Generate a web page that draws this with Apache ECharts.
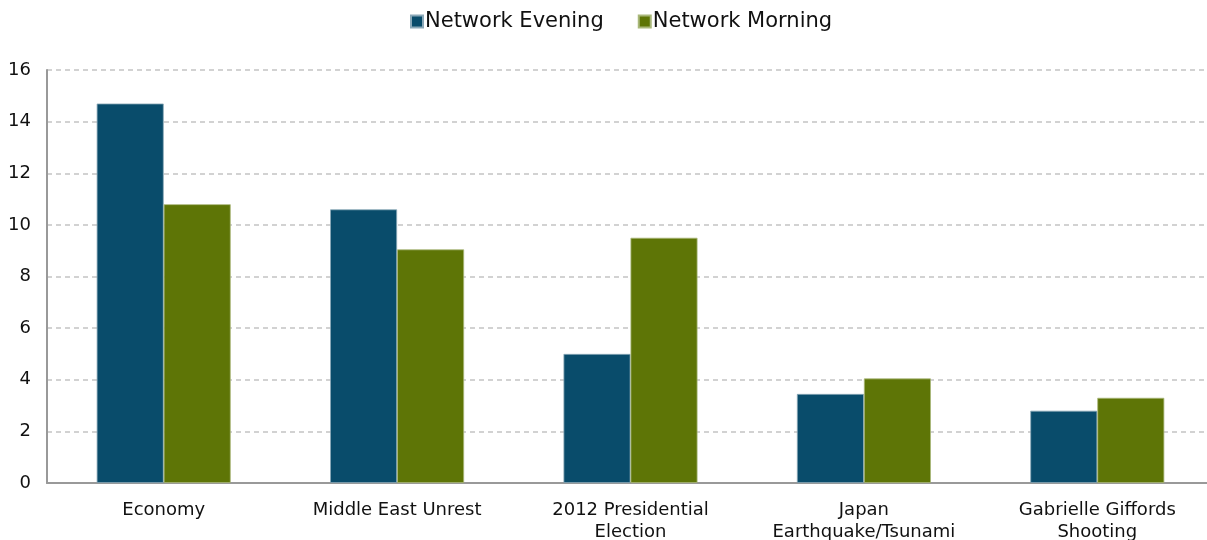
<!DOCTYPE html>
<html><head><meta charset="utf-8">
<script src="https://cdn.jsdelivr.net/npm/echarts@6/dist/echarts.min.js"></script>
<style>html,body{margin:0;padding:0;background:#fff;}#c{width:1207px;height:540px;}</style>
</head><body><div id="c"></div>
<script>
const categories = ['Economy', 'Middle East Unrest', '2012 Presidential\nElection', 'Japan\nEarthquake/Tsunami', 'Gabrielle Giffords\nShooting'];
const eveningValues = [14.7, 10.6, 5.0, 3.45, 2.8];
const morningValues = [10.8, 9.05, 9.5, 4.05, 3.3];
const seriesNames = ['Network Evening', 'Network Morning'];
const yTicks = {min: 0, max: 16, interval: 2};

const font = 'DejaVu Sans, Verdana, sans-serif';
const chart = echarts.init(document.getElementById('c'), null, {renderer: 'canvas'});
chart.setOption({
  animation: false,
  textStyle: {fontFamily: font},
  legend: {
    top: 6, left: 405, itemWidth: 12, itemHeight: 12, itemGap: 34,
    icon: 'rect',
    textStyle: {fontFamily: font, fontSize: 21, color: '#111', padding: [0, 0, 0, -3]},
    data: seriesNames
  },
  grid: {left: 47, right: -7, top: 70, bottom: 57, containLabel: false, outerBoundsMode: 'none'},
  xAxis: {
    type: 'category', data: categories,
    axisLine: {lineStyle: {color: '#999', width: 2}},
    axisTick: {show: false},
    axisLabel: {fontFamily: font, fontSize: 18, color: '#111', margin: 16, lineHeight: 22, interval: 0}
  },
  yAxis: {
    type: 'value', min: yTicks.min, max: yTicks.max, interval: yTicks.interval,
    axisLine: {show: true, lineStyle: {color: '#999', width: 2}},
    axisTick: {show: false},
    axisLabel: {fontFamily: font, fontSize: 18, color: '#111', margin: 16, align: 'right'},
    splitLine: {lineStyle: {color: '#c4c4c4', type: [5, 4], width: 1.5}}
  },
  series: [
    {name: seriesNames[0], type: 'bar', data: eveningValues, barWidth: 67, barGap: '0%',
     itemStyle: {color: '#094c6b', borderColor: '#8aa8b8', borderWidth: 0.8}},
    {name: seriesNames[1], type: 'bar', data: morningValues, barWidth: 67, barGap: '0%',
     itemStyle: {color: '#5e7506', borderColor: '#a9b87a', borderWidth: 0.8}}
  ]
});
</script></body></html>
